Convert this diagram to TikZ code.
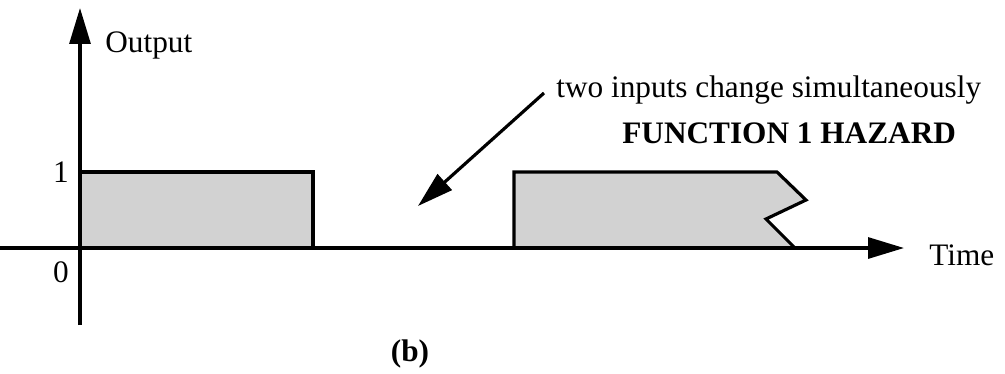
\documentclass[tikz,border=0pt]{standalone}
\usepackage{fontspec}
\setmainfont{Liberation Serif}
\usetikzlibrary{arrows.meta, positioning, calc}
\definecolor{stipple}{RGB}{210,210,210}
\tikzset{
  axis/.style={line width=1.8pt, -{Triangle[length=0.72cm, width=0.42cm]}},
  pulse/.style={line width=1.8pt, fill=stipple, line join=miter},
  lbl/.style={inner sep=0pt, anchor=base, font=\fontsize{17.8}{20}\selectfont},
  hint/.style={line width=1.8pt, -{Triangle[length=0.72cm, width=0.42cm]}}
}
\begin{document}
\begin{tikzpicture}[x=0.02cm, y=-0.02cm]
\useasboundingbox (0,0) rectangle (1005,373);
% axes
\coordinate (origin) at (80,248);
\coordinate (ybot) at (80,325);
\coordinate (ytop) at (80,8);
\coordinate (xleft) at (0,248);
\coordinate (xright) at (904,248);
% first pulse
\draw[pulse] (origin) -- (80,172) -- (313,172) -- (313,248);
% second pulse, cut off on the right
\draw[pulse] (514,248) -- (514,172) -- (777,172) -- (806,200) -- (766,219) -- (795,248);
\draw[axis] (ybot) -- (ytop);
\draw[axis] (xleft) -- (xright);
% labels
\node[lbl, anchor=base west] (ylabel) at (105,52) {Output};
\node[lbl] (one) at (61,182) {1};
\node[lbl] (zero) at (61,282) {0};
\node[lbl, anchor=base west] (xlabel) at (929,265) {Time};
\node[lbl, anchor=base west] (note) at (556,97) {two inputs change simultaneously};
\node[lbl, anchor=base west, font=\fontsize{17.8}{20}\selectfont\bfseries] (hazard) at (622,143) {FUNCTION 1 HAZARD};
\node[lbl, font=\fontsize{17.8}{20}\selectfont\bfseries] (caption) at (410,361) {(b)};
% pointer
\coordinate (tail) at (544,93);
\coordinate (tip) at (418,206);
\draw[hint] (tail) -- (tip);
\end{tikzpicture}
\end{document}
